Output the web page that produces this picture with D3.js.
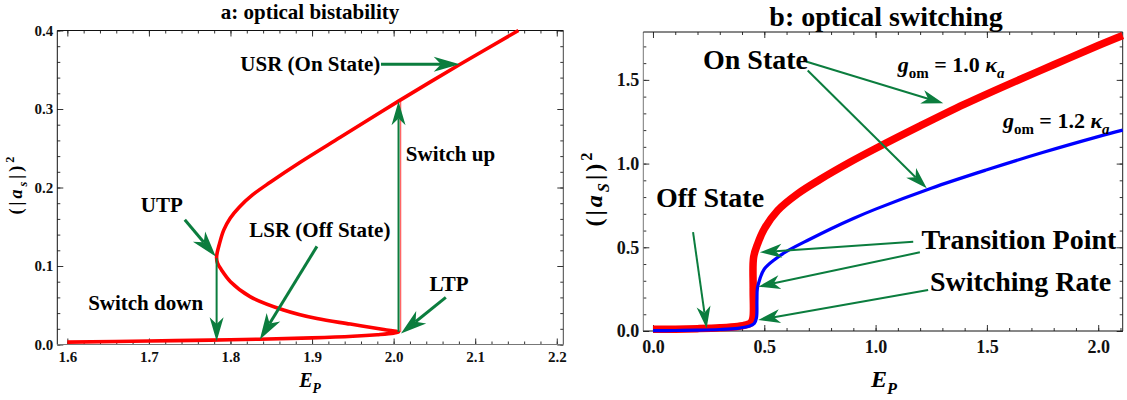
<!DOCTYPE html>
<html>
<head>
<meta charset="utf-8">
<script src="https://cdn.jsdelivr.net/npm/d3@7"></script>
<style>
  body { margin: 0; background: #fff; }
  svg text { font-family: "Liberation Serif", "Times New Roman", serif; font-weight: bold; }
</style>
</head>
<body>
<div id="chart"></div>
<script>
// ---- panel a: bistability curve (E_P, |a_s|^2), traced along the S-curve ----
const curveAx = [1.60, 1.70, 1.80, 1.90, 1.95, 1.98, 2.000, 2.006,
                 1.988, 1.947, 1.906, 1.865, 1.824, 1.800, 1.789, 1.784, 1.783,
                 1.7867, 1.7917, 1.7996, 1.8107, 1.8266, 1.8487, 1.8855, 1.9346, 2.006, 2.080, 2.153];
const curveAy = [0.003, 0.0045, 0.006, 0.0085, 0.0105, 0.0125, 0.0145, 0.016,
                 0.019, 0.026, 0.033, 0.044, 0.061, 0.080, 0.095, 0.104, 0.112,
                 0.1291, 0.1457, 0.1609, 0.1749, 0.1902, 0.2067, 0.2322, 0.2640, 0.310, 0.356, 0.400];

// ---- panel b: switching curves ----
const redX  = [0, 0.1, 0.2, 0.3, 0.38, 0.42, 0.44, 0.449, 0.450, 0.452, 0.47, 0.50, 0.56, 0.65, 0.75, 0.88, 1.0, 1.2, 1.4, 1.6, 1.8, 2.0, 2.11];
const redY  = [0.010, 0.011, 0.014, 0.019, 0.027, 0.037, 0.05, 0.08, 0.25, 0.44, 0.52, 0.61, 0.72, 0.82, 0.905, 1.005, 1.09, 1.225, 1.355, 1.475, 1.59, 1.705, 1.765];
const blueX = [0, 0.1, 0.2, 0.3, 0.38, 0.43, 0.455, 0.465, 0.467, 0.469, 0.48, 0.50, 0.55, 0.60, 0.70, 0.80, 0.90, 1.0, 1.25, 1.5, 1.75, 2.0, 2.11];
const blueY = [0.002, 0.003, 0.005, 0.009, 0.016, 0.028, 0.045, 0.08, 0.18, 0.255, 0.31, 0.37, 0.43, 0.475, 0.545, 0.611, 0.672, 0.728, 0.853, 0.963, 1.066, 1.161, 1.2];

// tick values
const aXMajor = [1.6, 1.7, 1.8, 1.9, 2.0, 2.1, 2.2];
const aYMajor = [0, 0.1, 0.2, 0.3, 0.4];
const bXMajor = [0, 0.5, 1.0, 1.5, 2.0];
const bYMajor = [0, 0.5, 1.0, 1.5];

const green = "#0b7d3e";
const svg = d3.select("#chart").append("svg").attr("width", 1127).attr("height", 400);

// scales
const xA = d3.scaleLinear().domain([1.5877, 2.208]).range([57.3, 563.3]);
const yA = d3.scaleLinear().domain([0, 0.4]).range([344.5, 30.5]);
const xB = d3.scaleLinear().domain([-0.0435, 2.11]).range([643.3, 1122.7]);
const yB = d3.scaleLinear().domain([0, 1.786]).range([331, 32]);

function frame(x, y, major, minor, fs, pad, colors) {
  const [x0, x1] = x.range(), [y0, y1] = y.range();
  const f = d3.format(".1f");
  const g = svg.append("g");
  const add = (axis, tr) => g.append("g").attr("transform", tr).call(axis);
  // minor ticks
  add(d3.axisBottom(x).tickValues(minor.x).tickSize(-3).tickSizeOuter(0).tickFormat(""), `translate(0,${y0})`);
  add(d3.axisTop(x).tickValues(minor.x).tickSize(-3).tickSizeOuter(0).tickFormat(""), `translate(0,${y1})`);
  add(d3.axisLeft(y).tickValues(minor.y).tickSize(-3).tickSizeOuter(0).tickFormat(""), `translate(${x0},0)`);
  add(d3.axisRight(y).tickValues(minor.y).tickSize(-3).tickSizeOuter(0).tickFormat(""), `translate(${x1},0)`);
  // major ticks
  add(d3.axisBottom(x).tickValues(major.x).tickSize(-6).tickSizeOuter(0).tickPadding(pad.x).tickFormat(f), `translate(0,${y0})`);
  add(d3.axisTop(x).tickValues(major.x).tickSize(-6).tickSizeOuter(0).tickFormat(""), `translate(0,${y1})`);
  add(d3.axisLeft(y).tickValues(major.y).tickSize(-6).tickSizeOuter(0).tickPadding(pad.y).tickFormat(f), `translate(${x0},0)`);
  add(d3.axisRight(y).tickValues(major.y).tickSize(-6).tickSizeOuter(0).tickFormat(""), `translate(${x1},0)`);
  g.selectAll(".domain").remove();
  g.selectAll(".tick line").attr("stroke", "#333");
  g.selectAll("text").attr("font-size", fs).attr("fill", "#111")
    .style("font-family", '"Liberation Serif", serif').style("font-weight", "bold");
  // frame edges
  g.append("line").attr("x1", x0).attr("x2", x0).attr("y1", y0).attr("y2", y1).attr("stroke", colors[0]);
  g.append("line").attr("x1", x0).attr("x2", x1).attr("y1", y1).attr("y2", y1).attr("stroke", colors[1]);
  g.append("line").attr("x1", x1).attr("x2", x1).attr("y1", y0).attr("y2", y1).attr("stroke", colors[2]);
  g.append("line").attr("x1", x0).attr("x2", x1).attr("y1", y0).attr("y2", y0).attr("stroke", colors[3]);
}

frame(xA, yA, {x: aXMajor, y: aYMajor},
      {x: d3.range(1.6, 2.2001, 0.02), y: d3.range(0, 0.4001, 0.02)}, 15, {x: 7, y: 4},
      ["#111", "#111", "#444", "#777"]);
frame(xB, yB, {x: bXMajor, y: bYMajor},
      {x: d3.range(0, 2.1001, 0.1), y: d3.range(0, 1.7001, 0.1)}, 18, {x: 9, y: 4},
      ["#777", "#111", "#222", "#111"]);

// rich text helper: segments [text, italic, shift]
function rich(parent, x, y, fs, segs, opts = {}) {
  const t = parent.append("text").attr("x", x).attr("y", y).attr("font-size", fs)
    .attr("text-anchor", opts.anchor || "start").attr("fill", "#000");
  if (opts.rotate) t.attr("transform", `rotate(-90,${x},${y})`);
  if (opts.spacing) t.attr("letter-spacing", opts.spacing);
  let cur = 0;
  segs.forEach(([s, it, sh]) => {
    const off = sh === "sub" ? 0.28 * fs : sh === "sup" ? -0.42 * fs : 0;
    t.append("tspan").attr("dy", off - cur)
      .attr("font-size", sh ? fs * 0.68 : fs)
      .attr("font-style", it ? "italic" : "normal").text(s);
    cur = off;
  });
  return t;
}

// arrow helper in pixel space
function arrow(p1, p2, w, len, hw) {
  const dx = p2[0] - p1[0], dy = p2[1] - p1[1], L = Math.hypot(dx, dy);
  const ux = dx / L, uy = dy / L, nx = -uy, ny = ux;
  const back = [p2[0] - ux * len, p2[1] - uy * len];
  const notch = [p2[0] - ux * len * 0.72, p2[1] - uy * len * 0.72];
  svg.append("line").attr("x1", p1[0]).attr("y1", p1[1]).attr("x2", notch[0]).attr("y2", notch[1])
    .attr("stroke", green).attr("stroke-width", w);
  svg.append("path").attr("fill", green)
    .attr("d", `M${p2[0]},${p2[1]}L${back[0] + nx * hw},${back[1] + ny * hw}L${notch[0]},${notch[1]}L${back[0] - nx * hw},${back[1] - ny * hw}Z`);
}
const pa = (x, y) => [xA(x), yA(y)];
const pb = (x, y) => [xB(x), yB(y)];

// ---- panel a drawing ----
const lineA = d3.line().x(i => xA(curveAx[i])).y(i => yA(curveAy[i])).curve(d3.curveCatmullRom.alpha(0.5));
// faint red switch-up trace
svg.append("line").attr("x1", xA(2.006) + 2).attr("x2", xA(2.006) + 2).attr("y1", yA(0.016)).attr("y2", yA(0.31))
  .attr("stroke", "#ff6666").attr("stroke-width", 1.5);
svg.append("path").attr("d", lineA(d3.range(curveAx.length)))
  .attr("fill", "none").attr("stroke", "#ff0000").attr("stroke-width", 3.6);

arrow(pa(2.006, 0.016), pa(2.006, 0.310), 2, 24, 7);   // switch up
arrow(pa(1.783, 0.110), pa(1.783, 0.004), 2, 24, 7);   // switch down
arrow(pa(1.9845, 0.357), pa(2.081, 0.357), 3, 26, 7.5); // USR
arrow(pa(1.744, 0.159), pa(1.782, 0.112), 3, 26, 8);   // UTP
arrow(pa(1.906, 0.125), pa(1.836, 0.0065), 3, 26, 8);  // LSR
arrow(pa(2.064, 0.060), pa(2.009, 0.014), 3, 26, 8);   // LTP

const fa = 21;
rich(svg, xA(1.9837), yA(0.348), fa, [["USR (On State)"]], {anchor: "end"});
rich(svg, xA(2.015), yA(0.2335), fa, [["Switch up"]]);
rich(svg, xA(1.690), yA(0.1686), fa, [["UTP"]]);
rich(svg, xA(1.823), yA(0.1368), fa, [["LSR (Off State)"]]);
rich(svg, xA(1.6255), yA(0.0439), fa, [["Switch down"]]);
rich(svg, xA(2.0441), yA(0.068), fa, [["LTP"]]);

// titles and axis labels, panel a
rich(svg, 310, 19, 21, [["a: optical bistability"]], {anchor: "middle"});
rich(svg, 310, 387, 20, [["E", true], ["P", true, "sub"]], {anchor: "middle"});
rich(svg, 22, 184, 18, [["("], ["|"], ["a", true], ["s", true, "sub"], ["|"], [")"], ["2", false, "sup"]],
     {anchor: "middle", rotate: true, spacing: 3});

// ---- panel b drawing ----
const lineB = (xs, ys) => d3.line().x(i => xB(xs[i])).y(i => yB(ys[i])).curve(d3.curveCatmullRom.alpha(0.5))(d3.range(xs.length));
svg.append("path").attr("d", lineB(redX, redY)).attr("fill", "none").attr("stroke", "#ff0000").attr("stroke-width", 7.5);
svg.append("path").attr("d", lineB(blueX, blueY)).attr("fill", "none").attr("stroke", "#0000ff").attr("stroke-width", 3.2);

arrow(pb(0.687, 1.61), pb(1.304, 1.36), 2, 22, 7);
arrow(pb(0.695, 1.556), pb(1.230, 0.852), 2, 22, 7);
arrow(pb(1.169, 0.533), pb(0.480, 0.470), 2, 22, 7);
arrow(pb(1.199, 0.470), pb(0.473, 0.265), 2, 22, 7);
arrow(pb(1.236, 0.245), pb(0.473, 0.066), 2, 22, 7);
arrow(pb(0.180, 0.590), pb(0.241, 0.016), 2, 22, 7);

const fb = 28;
rich(svg, xB(0.2245), yB(1.565), fb, [["On State"]]);
rich(svg, xB(0.0135), yB(0.741), fb, [["Off State"]]);
rich(svg, xB(1.2066), yB(0.487), fb, [["Transition Point"]]);
rich(svg, xB(1.244), yB(0.239), fb, [["Switching Rate"]]);
rich(svg, xB(1.10), yB(1.547), 22, [["g", true], ["om", false, "sub"], [" = 1.0 "], ["κ", true], ["a", true, "sub"]]);
rich(svg, xB(1.572), yB(1.2127), 22, [["g", true], ["om", false, "sub"], [" = 1.2 "], ["κ", true], ["a", true, "sub"]]);

rich(svg, 886, 26, 28, [["b: optical switching"]], {anchor: "middle"});
rich(svg, 884, 387, 24, [["E", true], ["P", true, "sub"]], {anchor: "middle"});
rich(svg, 602, 188, 24, [["("], ["|"], ["a", true], ["S", true, "sub"], ["|"], [")"], ["2", false, "sup"]],
     {anchor: "middle", rotate: true, spacing: 3});
</script>
</body>
</html>
